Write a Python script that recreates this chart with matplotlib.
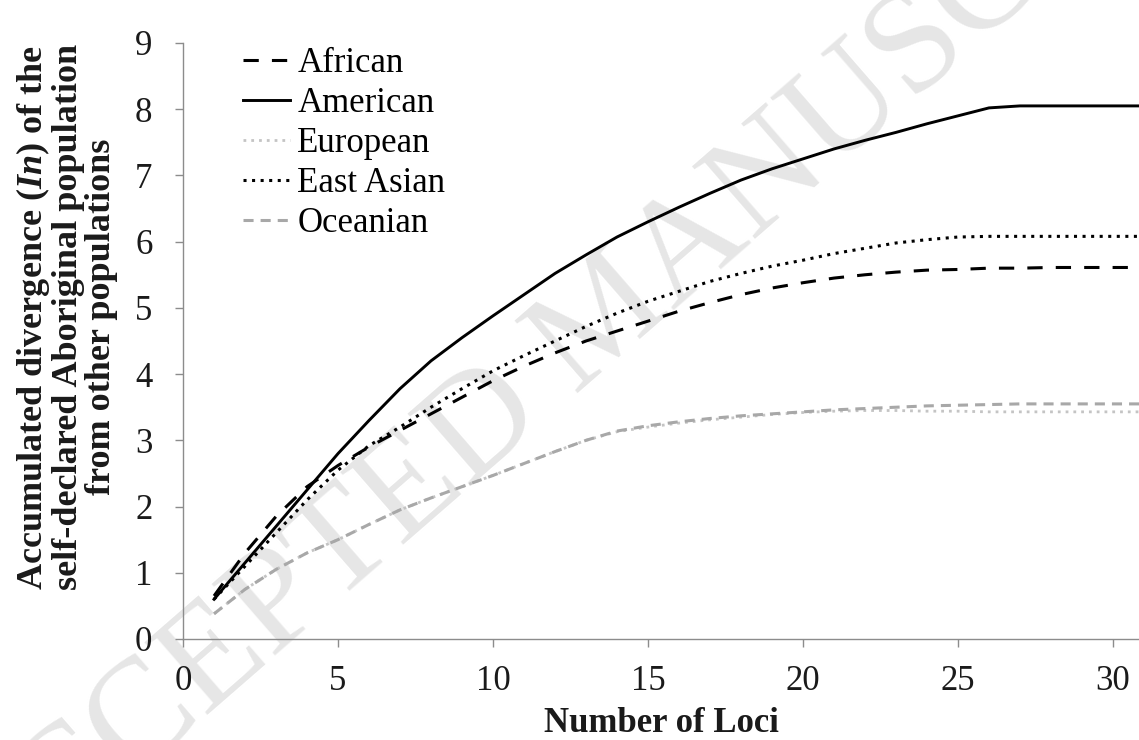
import matplotlib
matplotlib.use("Agg")
import matplotlib.pyplot as plt

plt.rcParams['font.family'] = ['Liberation Serif', 'DejaVu Serif']
plt.rcParams['mathtext.fontset'] = 'custom'
plt.rcParams['mathtext.it'] = 'Liberation Serif:italic:bold'
plt.rcParams['mathtext.rm'] = 'Liberation Serif:bold'

# data
loci = list(range(1, 32))
african = [0.65, 1.3, 1.85, 2.3, 2.62, 2.9, 3.15, 3.4, 3.65, 3.9, 4.12, 4.32, 4.5, 4.65, 4.8,
           4.95, 5.08, 5.2, 5.3, 5.38, 5.45, 5.5, 5.54, 5.57, 5.58, 5.6, 5.6, 5.61, 5.61, 5.61, 5.61]
american = [0.6, 1.15, 1.7, 2.25, 2.8, 3.3, 3.78, 4.2, 4.55, 4.88, 5.2, 5.52, 5.8, 6.07, 6.3,
            6.52, 6.73, 6.93, 7.1, 7.25, 7.4, 7.53, 7.65, 7.78, 7.9, 8.02, 8.05, 8.05, 8.05, 8.05, 8.05]
east_asian = [0.6, 1.1, 1.6, 2.1, 2.55, 2.92, 3.2, 3.5, 3.78, 4.05, 4.28, 4.5, 4.72, 4.92, 5.1,
              5.25, 5.4, 5.52, 5.63, 5.72, 5.82, 5.9, 5.98, 6.03, 6.07, 6.08, 6.08, 6.08, 6.08, 6.08, 6.08]
european = [0.38, 0.75, 1.05, 1.3, 1.5, 1.73, 1.95, 2.13, 2.3, 2.47, 2.65, 2.83, 3.0, 3.13, 3.2,
            3.26, 3.31, 3.35, 3.39, 3.42, 3.44, 3.45, 3.45, 3.44, 3.44, 3.43, 3.43, 3.43, 3.43, 3.43, 3.43]
oceanian = [0.38, 0.75, 1.05, 1.3, 1.5, 1.73, 1.95, 2.13, 2.3, 2.47, 2.65, 2.83, 3.0, 3.14, 3.22,
            3.28, 3.33, 3.37, 3.4, 3.43, 3.46, 3.48, 3.5, 3.52, 3.53, 3.54, 3.55, 3.55, 3.55, 3.55, 3.55]

xticks = [0, 5, 10, 15, 20, 25, 30]
yticks = list(range(0, 10))

fig = plt.figure(figsize=(11.39, 7.40), dpi=100)
ax = fig.add_axes([0.1607, 0.1365, 0.8393, 0.8054])

# watermark
ax.text(0.534, 0.568, 'ACCEPTED MANUSCRIPT', transform=fig.transFigure,
        fontsize=105, color='#e6e6e6', rotation=41, rotation_mode='anchor',
        ha='center', va='center', zorder=0.5, clip_on=False)

ax.plot(loci, african, color='black', lw=2.2, linestyle=(0, (5, 4.3)), label='African', zorder=3)
ax.plot(loci, american, color='black', lw=2.1, linestyle='-', label='American', zorder=3)
ax.plot(loci, european, color='#c4c4c4', lw=2.0, linestyle=(0, (1, 1.8)), label='European', zorder=2)
ax.plot(loci, east_asian, color='black', lw=2.2, linestyle=(0, (1, 1.8)), label='East Asian', zorder=3)
ax.plot(loci, oceanian, color='#a8a8a8', lw=2.2, linestyle=(0, (3.3, 2.3)), label='Oceanian', zorder=2)

ax.set_xlim(0, 30.84)
ax.set_ylim(0, 9)
ax.set_xticks(xticks)
ax.set_yticks(yticks)

for side in ['top', 'right']:
    ax.spines[side].set_visible(False)
for side in ['left', 'bottom']:
    ax.spines[side].set_color('#8c8c8c')
    ax.spines[side].set_linewidth(1.0)

ax.tick_params(axis='both', colors='#8c8c8c', labelcolor='#1a1a1a', labelsize=25,
               length=6, width=1.0, direction='out')
ax.tick_params(axis='y', pad=16)
ax.tick_params(axis='x', pad=13)

ax.set_xlabel('Number of Loci', fontsize=25, fontweight='bold', labelpad=6, color='#1a1a1a')
ax.set_ylabel('Accumulated divergence ($\\mathit{In}$) of the\n'
              'self-declared Aboriginal population\nfrom other populations',
              fontsize=26, fontweight='bold', linespacing=1.0, color='#1a1a1a')
ax.yaxis.label.set_va('center')
ax.yaxis.set_label_coords(-0.122, 0.54)

ax.legend(loc='upper left', bbox_to_anchor=(0.063, 0.993), frameon=False, fontsize=25,
          handlelength=1.36, handletextpad=0.2, labelspacing=0.2, borderpad=0,
          borderaxespad=0)

fig.savefig('out.png', dpi=100, facecolor='white')
